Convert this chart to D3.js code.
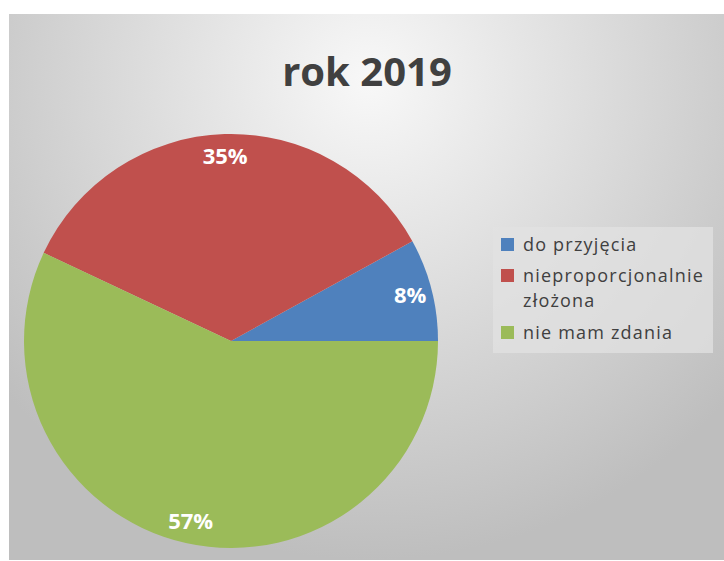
<!DOCTYPE html>
<html><head><meta charset="utf-8">
<script src="https://cdn.jsdelivr.net/npm/d3@7"></script>
<style>body{margin:0;background:#fff}svg{display:block}</style>
</head><body>
<script>
const title = "rok 2019";
const categories = ["do przyjęcia", "nieproporcjonalnie złożona", "nie mam zdania"];
const legendLines = [["do przyjęcia"], ["nieproporcjonalnie", "złożona"], ["nie mam zdania"]];
const values = [8, 35, 57];
const colors = ["#4f81bd", "#c0504d", "#9bbb59"];

const W = 724, H = 561;
const svg = d3.select("body").append("svg").attr("width", W).attr("height", H);
const defs = svg.append("defs");
const grad = defs.append("radialGradient").attr("id", "bg")
  .attr("gradientUnits", "userSpaceOnUse")
  .attr("cx", 370).attr("cy", 80).attr("r", 480);
grad.append("stop").attr("offset", 0).attr("stop-color", "#f8f8f8");
grad.append("stop").attr("offset", 1).attr("stop-color", "#bebebe");

svg.append("rect").attr("x", 9).attr("y", 14).attr("width", W - 9).attr("height", 546)
  .attr("fill", "url(#bg)");

svg.append("text").attr("x", 367).attr("y", 86).attr("text-anchor", "middle")
  .attr("font-family", "Open Sans").attr("font-weight", "bold").attr("font-size", 40)
  .attr("fill", "#404040").text(title);

const cx = 231, cy = 341, R = 207;
const pie = d3.pie().sort(null).value(d => d)
  .startAngle(Math.PI / 2).endAngle(Math.PI / 2 - 2 * Math.PI);
const arcs = pie(values);
const arc = d3.arc().innerRadius(0).outerRadius(R);
const labelArc = d3.arc().innerRadius(185).outerRadius(185);
const g = svg.append("g").attr("transform", `translate(${cx},${cy})`);
g.selectAll("path").data(arcs).join("path").attr("d", arc).attr("fill", (d, i) => colors[i]);
g.selectAll("text").data(arcs).join("text")
  .attr("transform", d => `translate(${labelArc.centroid(d)})`)
  .attr("text-anchor", "middle").attr("dy", "0.35em")
  .attr("font-family", "Open Sans").attr("font-weight", "bold").attr("font-size", 22)
  .attr("fill", "#fff").text(d => d.value + "%");

const lg = svg.append("g");
lg.append("rect").attr("x", 493).attr("y", 227).attr("width", 220).attr("height", 126)
  .attr("fill", "#e2e2e2").attr("fill-opacity", 0.75);
const ys = [245, 276, 333];
legendLines.forEach((lines, i) => {
  lg.append("rect").attr("x", 501).attr("y", ys[i] - 7).attr("width", 13).attr("height", 13)
    .attr("fill", colors[i]);
  lines.forEach((t, j) => {
    lg.append("text").attr("x", 523).attr("y", ys[i] + j * 25).attr("dy", "0.35em")
      .attr("font-family", "Open Sans").attr("font-size", 18).attr("letter-spacing", 1.2)
      .attr("fill", "#404040").text(t);
  });
});
</script>
</body></html>
